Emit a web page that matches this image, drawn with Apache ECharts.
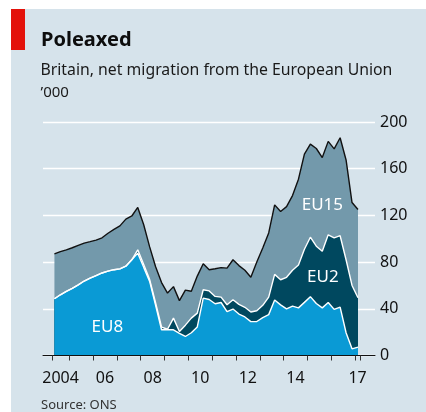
<!DOCTYPE html>
<html>
<head>
<meta charset="utf-8">
<script src="https://cdn.jsdelivr.net/npm/echarts@6/dist/echarts.min.js"></script>
<style>
html, body { margin: 0; padding: 0; background: #fff; }
#main { width: 426px; height: 412px; }
</style>
</head>
<body>
<div id="main"></div>
<script>
// rolling-year quarters, '000
const periods = [
  '2004 Q2', '2004 Q3', '2004 Q4',
  '2005 Q1', '2005 Q2', '2005 Q3', '2005 Q4',
  '2006 Q1', '2006 Q2', '2006 Q3', '2006 Q4',
  '2007 Q1', '2007 Q2', '2007 Q3', '2007 Q4',
  '2008 Q1', '2008 Q2', '2008 Q3', '2008 Q4',
  '2009 Q1', '2009 Q2', '2009 Q3', '2009 Q4',
  '2010 Q1', '2010 Q2', '2010 Q3', '2010 Q4',
  '2011 Q1', '2011 Q2', '2011 Q3', '2011 Q4',
  '2012 Q1', '2012 Q2', '2012 Q3', '2012 Q4',
  '2013 Q1', '2013 Q2', '2013 Q3', '2013 Q4',
  '2014 Q1', '2014 Q2', '2014 Q3', '2014 Q4',
  '2015 Q1', '2015 Q2', '2015 Q3', '2015 Q4',
  '2016 Q1', '2016 Q2', '2016 Q3', '2016 Q4',
  '2017 Q1'
];
const eu8 = [48.6, 52, 55, 57.5, 60.5, 63.8, 66.3, 68.5, 70.7, 72.3, 73.5, 74.2, 76.5, 82, 87.7, 75.5,
  63.5, 43, 22, 22, 22, 19, 16.3, 19.5, 24.5, 49.2, 48, 44.3, 45.4, 37.5, 39.8, 35.5, 33, 29, 29.1,
  32.5, 35, 47.5, 43.4, 40, 42.3, 40.8, 45.5, 50.4, 44.5, 40.8, 45.4, 39.5, 41.5, 19.5, 5.7, 7.2];
const eu2 = [0, 0, 0, 0, 0, 0, 0, 0, 0, 0, 0, 0, 0, 0, 2.8, 2.5, 1.5, 2, 2.3, 0.5, 10, 1.6, 9.7, 12.5,
  11.8, 7.1, 7.3, 6.3, 4.6, 6, 7.9, 8.3, 8.3, 8.3, 9.2, 10.5, 15, 22, 21.5, 27, 30.7, 36.7, 45.5,
  50.9, 49.1, 48.5, 58, 61.3, 61.1, 62.5, 54.3, 42.3];
const eu15 = [38.4, 37, 35.5, 34.8, 33.8, 32.5, 31.2, 30.3, 30.1, 32.4, 34.5, 36.8, 40.3, 37.5, 36.3,
  34, 28, 31, 38.2, 31, 27, 26.4, 30, 23, 31.7, 22.3, 18.1, 23.7, 25.3, 31.3, 34.3, 33.2, 31.7, 29.7,
  41.7, 49, 55, 59.5, 58.5, 60.5, 64, 73.5, 81.5, 79.7, 83.7, 80.2, 80, 76.2, 83.9, 85.5, 71, 75.5];

// x axis ticks (year boundaries, plus the ends of the data) and labels
const tickYears = [2004.27, 2005, 2006, 2007, 2008, 2009, 2010, 2011, 2012, 2013, 2014, 2015, 2016, 2017, 2017.22];
const labelYears = [2004, 2006, 2008, 2010, 2012, 2014, 2017];
const labelTexts = ['2004', '06', '08', '10', '12', '14', '17'];

const seriesNames = ['EU8', 'EU2', 'EU15'];
// label anchors in data units [year, '000]
const seriesLabelAt = [[2006.6, 24.6], [2015.65, 67], [2015.63, 129]];

const colors = { eu8: '#0a9ad5', eu2: '#00485f', eu15: '#7399ab', bg: '#d6e3eb' };
const FONT = '"Noto Sans", sans-serif';

function toYear(p) {
  const parts = p.split(' Q');
  return +parts[0] + (parts[1] - 1) * 0.25 + 0.125;
}
const xs = periods.map(toYear);
// cumulative tops of the stacked bands
const top8 = eu8.slice();
const top2 = eu8.map((v, i) => v + eu2[i]);
const top15 = top2.map((v, i) => v + eu15[i]);
const pairs = arr => arr.map((v, i) => [xs[i], +v.toFixed(2)]);

const first = tickYears[0], last = tickYears[tickYears.length - 1];
const labelPos = labelYears.map(y => (Math.max(y, first) + Math.min(y + 1, last)) / 2);

var myChart = echarts.init(document.getElementById('main'));

function areaSeries(name, data, color) {
  return {
    name: name, type: 'line', data: pairs(data),
    showSymbol: false, symbol: 'none', z: 2,
    lineStyle: { width: 0 },
    areaStyle: { color: color, opacity: 1 }
  };
}
function edgeSeries(name, data, color) {
  return {
    name: name + ' edge', type: 'line', data: pairs(data),
    showSymbol: false, symbol: 'none', z: 3,
    lineStyle: { width: 1.4, color: color }
  };
}

let option = {
  backgroundColor: colors.bg,
  animation: false,
  grid: { left: 43, right: 51, top: 122, bottom: 56.5 },
  xAxis: {
    type: 'value',
    min: 2003.895,
    max: 2017.84,
    z: 10,
    axisLine: { show: true, lineStyle: { color: '#111', width: 1 } },
    axisTick: { show: true, customValues: tickYears, length: 5, lineStyle: { color: '#333', width: 1 } },
    axisLabel: {
      customValues: labelPos,
      margin: 15,
      fontSize: 16,
      fontFamily: FONT,
      color: '#111',
      formatter: function (v) {
        for (let i = 0; i < labelPos.length; i++) {
          if (Math.abs(labelPos[i] - v) < 1e-6) return labelTexts[i];
        }
        return '';
      }
    },
    splitLine: { show: false }
  },
  yAxis: {
    type: 'value',
    position: 'right',
    min: 0,
    max: 200,
    interval: 40,
    axisLine: { show: false },
    axisTick: { show: false },
    axisLabel: { margin: 5, fontSize: 16, fontFamily: FONT, color: '#111' },
    splitLine: { lineStyle: { color: '#ffffff', width: 1.4 } }
  },
  series: [
    areaSeries('EU15', top15, colors.eu15),
    areaSeries('EU2', top2, colors.eu2),
    areaSeries('EU8', top8, colors.eu8),
    edgeSeries('EU8', top8, '#ffffff'),
    edgeSeries('EU2', top2, '#ffffff'),
    edgeSeries('EU15', top15, '#111111')
  ]
};
myChart.setOption(option);

// headers, red tag and in-chart labels
const graphics = [
  { type: 'rect', shape: { x: 0, y: 0, width: 426, height: 9 }, style: { fill: '#ffffff' } },
  { type: 'rect', shape: { x: 0, y: 0, width: 11, height: 412 }, style: { fill: '#ffffff' } },
  { type: 'rect', shape: { x: 11, y: 9, width: 14, height: 41 }, style: { fill: '#e3120b' } },
  { type: 'text', x: 41, y: 30, style: { text: 'Poleaxed', font: 'bold 20px ' + FONT, fill: '#0d0d0d', verticalAlign: 'top' } },
  { type: 'text', x: 40.5, y: 62, style: { text: 'Britain, net migration from the European Union', font: '15.8px ' + FONT, fill: '#1a1a1a', verticalAlign: 'top' } },
  { type: 'text', x: 40.5, y: 85, style: { text: '\u2019000', font: '15px ' + FONT, fill: '#1a1a1a', verticalAlign: 'top' } },
  { type: 'text', x: 41, y: 398.5, style: { text: 'Source: ONS', font: '13px ' + FONT, fill: '#333', verticalAlign: 'top' } }
];
seriesNames.forEach(function (name, i) {
  const p = myChart.convertToPixel({ gridIndex: 0 }, seriesLabelAt[i]);
  graphics.push({
    type: 'text', x: p[0], y: p[1], z: 20,
    style: { text: name, font: '17px ' + FONT, fill: '#ffffff', align: 'center', verticalAlign: 'middle' }
  });
});
myChart.setOption({ graphic: graphics });
</script>
</body>
</html>
